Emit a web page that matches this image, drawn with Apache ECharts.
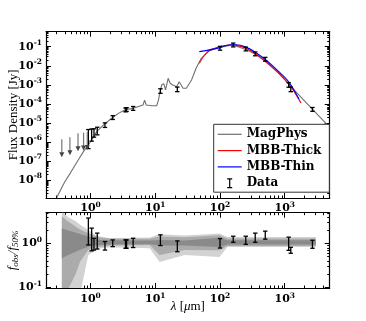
<!DOCTYPE html>
<html>
<head>
<meta charset="utf-8">
<script src="https://cdn.jsdelivr.net/npm/echarts@6/dist/echarts.min.js"></script>
<style>
  html, body { margin: 0; padding: 0; background: #fff; }
  #chart { width: 366px; height: 321px; }
</style>
</head>
<body>
<div id="chart"></div>
<script>
// wavelength in micron, flux density in Jy
const modelLambda = [0.302, 0.398, 0.484, 0.631, 0.776, 1.0, 1.245, 1.585, 2.12, 2.69, 3.39, 4.57, 6.46, 6.84, 7.24, 8.91, 10.5, 11.2, 11.7, 12.6, 13.2, 13.6, 14.4, 15.8, 17.0, 18.6, 21.4, 23.4, 26.9, 30.2, 36.3, 42.7, 51.3, 69.2, 97.7, 158, 251, 355, 513, 794, 1175, 2692, 5012];
const modelFlux = [1.26e-9, 7.9e-9, 2.24e-8, 1.0e-7, 3.09e-7, 1.02e-6, 3.47e-6, 7.9e-6, 1.74e-5, 3.16e-5, 4.8e-5, 5.9e-5, 8.7e-5, 1.58e-4, 8.7e-5, 7.9e-5, 7.9e-5, 1.58e-4, 3.55e-4, 1.0e-3, 1.2e-3, 1.12e-3, 5.4e-4, 2.19e-3, 1.2e-3, 9.8e-4, 7.9e-4, 1.45e-3, 6.6e-4, 6.6e-4, 1.78e-3, 7.4e-3, 2.45e-2, 6.2e-2, 9.3e-2, 0.123, 7.2e-2, 4.0e-2, 1.62e-2, 4.5e-3, 9.8e-4, 5.1e-5, 5.6e-6];

const thickLambda = [47.9, 57.5, 69.2, 97.7, 126, 158, 200, 251, 355, 513, 794, 1175, 1778];
const thickFlux = [1.35e-2, 3.55e-2, 6.5e-2, 0.1, 0.117, 0.123, 0.107, 8.3e-2, 4.3e-2, 1.62e-2, 4.2e-3, 1.05e-3, 1.12e-4];

const thinLambda = [47.9, 97.7, 141, 178, 251, 355, 513, 794, 1175, 1660];
const thinFlux = [5.5e-2, 8.7e-2, 0.126, 0.126, 9.5e-2, 5.0e-2, 2.0e-2, 5.2e-3, 1.32e-3, 1.78e-4];

const dataLambda = [0.925, 1.04, 1.13, 1.27, 1.67, 2.2, 3.47, 3.6, 4.55, 12, 21.9, 100, 160, 250, 350, 500, 1150, 1240, 2680];
const dataFlux = [1.41e-6, 2.29e-6, 2.95e-6, 3.72e-6, 7.6e-6, 1.9e-5, 4.8e-5, 5.0e-5, 5.75e-5, 4.7e-4, 5.75e-4, 8.3e-2, 0.123, 7.6e-2, 4.2e-2, 2.19e-2, 9.8e-4, 5.75e-4, 5.1e-5];
const dataErrDex = [0.5, 0.32, 0.22, 0.2, 0.12, 0.1, 0.1, 0.1, 0.1, 0.12, 0.12, 0.1, 0.1, 0.1, 0.1, 0.1, 0.12, 0.12, 0.1];

const limitLambda = [0.36, 0.48, 0.64, 0.78, 0.89];
const limitFlux = [1.38e-6, 1.74e-6, 2.82e-6, 3.09e-6, 3.31e-6];

// f_obs / f_50% error bars
const ratioLow = [0.93, 0.68, 0.71, 0.75, 0.71, 0.85, 0.78, 0.78, 0.81, 0.90, 0.65, 0.79, 1.07, 0.96, 1.07, 1.26, 0.70, 0.60, 0.78];
const ratioHigh = [3.83, 2.25, 1.32, 1.73, 1.11, 1.21, 1.21, 1.21, 1.32, 1.58, 1.15, 1.30, 1.47, 1.47, 1.73, 1.92, 1.40, 0.82, 1.19];

// percentile bands
const bandLambda = [0.36, 0.45, 0.58, 0.69, 0.92, 1.17, 1.4, 2.0, 8.2, 11.7, 28.4, 98, 130, 3020];
const outerLow = [0.05, 0.05, 0.05, 0.07, 0.54, 0.70, 0.78, 0.82, 0.78, 0.38, 0.55, 0.49, 0.83, 0.83];
const outerHigh = [5.5, 4.0, 3.27, 2.7, 2.06, 1.58, 1.45, 1.32, 1.38, 1.64, 1.53, 1.70, 1.42, 1.42];
const midLow = [0.05, 0.09, 0.19, 0.39, 0.71, 0.80, 0.85, 0.90, 0.93, 0.55, 0.71, 0.70, 0.88, 0.88];
const midHigh = [4.2, 3.2, 2.47, 2.1, 1.73, 1.5, 1.38, 1.30, 1.28, 1.45, 1.40, 1.55, 1.30, 1.30];
const innerLow = [0.46, 0.55, 0.64, 0.72, 0.85, 0.90, 0.93, 0.95, 0.96, 0.90, 0.90, 0.83, 0.95, 0.95];
const innerHigh = [2.25, 2.0, 1.8, 1.65, 1.45, 1.3, 1.21, 1.19, 1.17, 1.21, 1.17, 1.35, 1.19, 1.19];

const xTicks = [1, 10, 100, 1000];
const fluxTicks = [1e-1, 1e-2, 1e-3, 1e-4, 1e-5, 1e-6, 1e-7, 1e-8];
const ratioTicks = [0.1, 1];

const X_MIN = 0.205, X_MAX = 4950;
const F_MIN = 1.135e-9, F_MAX = 0.614;
const R_MIN = 0.0964, R_MAX = 5.07;

const serif = 'DejaVu Serif';
const roman = 'Liberation Serif';

function minorTicks(lo, hi, e0, e1) {
  const out = [];
  for (let e = e0; e <= e1; e++) {
    for (let m = 2; m <= 9; m++) {
      const v = m * Math.pow(10, e);
      if (v > lo && v < hi) out.push(v);
    }
  }
  return out;
}
const minorX = minorTicks(X_MIN, X_MAX, -1, 3);
const minorF = minorTicks(F_MIN, F_MAX, -9, -1);
const minorR = minorTicks(R_MIN, R_MAX, -2, 0);

const powLabel = {
  color: '#000',
  fontFamily: serif,
  fontWeight: 'bold',
  fontSize: 11,
  formatter: function (v) {
    const e = Math.round(Math.log10(v));
    return '{b|10}{s|' + e + '}';
  },
  rich: {
    b: { fontFamily: serif, fontWeight: 'bold', fontSize: 11, color: '#000' },
    s: { fontFamily: serif, fontWeight: 'bold', fontSize: 7.5, color: '#000', padding: [0, 0, 7, 0] }
  }
};

function axis(grid, position, min, max, ticks, len, labels, showLine, extra) {
  return Object.assign({
    type: 'log',
    logBase: 10,
    gridIndex: grid,
    position: position,
    min: min,
    max: max,
    axisLine: { show: showLine, lineStyle: { color: '#000', width: 1.2 } },
    axisTick: { show: true, inside: true, length: len, customValues: ticks, lineStyle: { color: '#000', width: 1 } },
    axisLabel: labels ? Object.assign({ customValues: labels, margin: 4 }, powLabel) : { show: false },
    splitLine: { show: false },
    minorTick: { show: false }
  }, extra || {});
}

const chart = echarts.init(document.getElementById('chart'));

function bandSeries(lo, hi, color) {
  return {
    type: 'custom',
    xAxisIndex: 4,
    yAxisIndex: 4,
    clip: true,
    silent: true,
    z: 1,
    data: [[1, 1]],
    renderItem: function (params, api) {
      const pts = [];
      for (let i = 0; i < bandLambda.length; i++) pts.push(api.coord([bandLambda[i], hi[i]]));
      for (let i = bandLambda.length - 1; i >= 0; i--) pts.push(api.coord([bandLambda[i], lo[i]]));
      return { type: 'polygon', shape: { points: pts }, style: { fill: color } };
    }
  };
}

function errorBarRender(params, api) {
  const p1 = api.coord([api.value(0), api.value(1)]);
  const p2 = api.coord([api.value(0), api.value(2)]);
  const c = 2.2;
  const st = { stroke: '#000', lineWidth: 1.3 };
  return {
    type: 'group',
    children: [
      { type: 'line', shape: { x1: p1[0], y1: p1[1], x2: p2[0], y2: p2[1] }, style: st },
      { type: 'line', shape: { x1: p1[0] - c, y1: p1[1], x2: p1[0] + c, y2: p1[1] }, style: st },
      { type: 'line', shape: { x1: p2[0] - c, y1: p2[1], x2: p2[0] + c, y2: p2[1] }, style: st }
    ]
  };
}

const fluxBars = dataLambda.map((l, i) => [l, dataFlux[i] / Math.pow(10, dataErrDex[i]), dataFlux[i] * Math.pow(10, dataErrDex[i])]);
const ratioBars = dataLambda.map((l, i) => [l, ratioLow[i], ratioHigh[i]]);

const lineIcon = 'path://M0,0h24v1.2h-24z';

const option = {
  backgroundColor: '#fff',
  animation: false,
  grid: [
    { left: 46, top: 31.7, width: 283.7, height: 166.3, outerBoundsMode: 'none' },
    { left: 46, top: 212.7, width: 283.7, height: 75.3, outerBoundsMode: 'none' }
  ],
  legend: {
    left: 213.7,
    top: 124.3,
    orient: 'vertical',
    backgroundColor: '#fff',
    borderColor: '#333',
    borderWidth: 1,
    borderRadius: 0,
    padding: [3, 8, 2, 4],
    itemWidth: 24,
    itemHeight: 10,
    itemGap: 2.3,
    selectedMode: false,
    symbolKeepAspect: true,
    textStyle: { fontFamily: serif, fontWeight: 'bold', fontSize: 12, color: '#000', lineHeight: 14 },
    data: [
      { name: 'MagPhys', icon: lineIcon },
      { name: 'MBB-Thick', icon: lineIcon },
      { name: 'MBB-Thin', icon: lineIcon },
      { name: 'Data', icon: 'path://M0,0h5v1.2h-5z M1.9,1.2h1.2v7.6h-1.2z M0,8.8h5v1.2h-5z', itemStyle: { color: '#000' } }
    ]
  },
  xAxis: [
    axis(0, 'bottom', X_MIN, X_MAX, xTicks, 5, xTicks, true, { axisLabel: Object.assign({ customValues: xTicks, margin: 3 }, powLabel) }),
    axis(0, 'bottom', X_MIN, X_MAX, minorX, 2.5, null, false),
    axis(0, 'top', X_MIN, X_MAX, xTicks, 5, null, true),
    axis(0, 'top', X_MIN, X_MAX, minorX, 2.5, null, false),
    axis(1, 'bottom', X_MIN, X_MAX, xTicks, 5, xTicks, true, {
      axisLabel: Object.assign({ customValues: xTicks, margin: 4 }, powLabel),
      name: '{i|λ} [{i|μ}m]',
      nameLocation: 'middle',
      nameGap: 12,
      nameMoveOverlap: false,
      nameTextStyle: {
        fontFamily: roman, fontSize: 13, color: '#000',
        rich: { i: { fontFamily: roman, fontStyle: 'italic', fontSize: 13, color: '#000' } }
      }
    }),
    axis(1, 'bottom', X_MIN, X_MAX, minorX, 2.5, null, false),
    axis(1, 'top', X_MIN, X_MAX, xTicks, 5, null, true),
    axis(1, 'top', X_MIN, X_MAX, minorX, 2.5, null, false)
  ],
  yAxis: [
    axis(0, 'left', F_MIN, F_MAX, fluxTicks, 5, fluxTicks, true, {
      name: 'Flux Density [Jy]',
      nameLocation: 'middle',
      nameGap: 26,
      nameRotate: 90,
      nameMoveOverlap: false,
      nameTextStyle: { fontFamily: roman, fontSize: 13, color: '#000' }
    }),
    axis(0, 'left', F_MIN, F_MAX, minorF, 2.5, null, false),
    axis(0, 'right', F_MIN, F_MAX, fluxTicks, 5, null, true),
    axis(0, 'right', F_MIN, F_MAX, minorF, 2.5, null, false),
    axis(1, 'left', R_MIN, R_MAX, ratioTicks, 5, ratioTicks, true, {
      name: '{f|f}{s|obs}{f|/f}{s|50%}',
      nameLocation: 'middle',
      nameGap: 26,
      nameRotate: 90,
      nameMoveOverlap: false,
      nameTextStyle: {
        fontFamily: roman, fontSize: 13, color: '#000',
        rich: {
          f: { fontFamily: roman, fontStyle: 'italic', fontSize: 13, color: '#000' },
          s: { fontFamily: roman, fontStyle: 'italic', fontSize: 9, color: '#000', padding: [5, 0, 0, 0] }
        }
      }
    }),
    axis(1, 'left', R_MIN, R_MAX, minorR, 2.5, null, false),
    axis(1, 'right', R_MIN, R_MAX, ratioTicks, 5, null, true),
    axis(1, 'right', R_MIN, R_MAX, minorR, 2.5, null, false)
  ],
  series: [
    {
      name: 'MagPhys',
      type: 'line',
      xAxisIndex: 0,
      yAxisIndex: 0,
      symbol: 'none',
      lineStyle: { color: '#707070', width: 1.1 },
      itemStyle: { color: '#707070' },
      data: modelLambda.map((l, i) => [l, modelFlux[i]]),
      z: 3
    },
    {
      name: 'MBB-Thick',
      type: 'line',
      xAxisIndex: 0,
      yAxisIndex: 0,
      symbol: 'none',
      smooth: 0.3,
      lineStyle: { color: '#ff0000', width: 1.1 },
      itemStyle: { color: '#ff0000' },
      data: thickLambda.map((l, i) => [l, thickFlux[i]]),
      z: 4
    },
    {
      name: 'MBB-Thin',
      type: 'line',
      xAxisIndex: 0,
      yAxisIndex: 0,
      symbol: 'none',
      smooth: 0.3,
      lineStyle: { color: '#0000ff', width: 1.1 },
      itemStyle: { color: '#0000ff' },
      data: thinLambda.map((l, i) => [l, thinFlux[i]]),
      z: 5
    },
    {
      name: 'Data',
      type: 'custom',
      xAxisIndex: 0,
      yAxisIndex: 0,
      itemStyle: { color: '#000' },
      encode: { x: 0, y: [1, 2] },
      data: fluxBars,
      renderItem: errorBarRender,
      z: 6
    },
    {
      name: 'upper limits',
      type: 'custom',
      xAxisIndex: 0,
      yAxisIndex: 0,
      encode: { x: 0, y: 1 },
      data: limitLambda.map((l, i) => [l, limitFlux[i]]),
      renderItem: function (params, api) {
        const p = api.coord([api.value(0), api.value(1)]);
        const len = 18;
        return {
          type: 'group',
          children: [
            { type: 'line', shape: { x1: p[0], y1: p[1], x2: p[0], y2: p[1] + len - 3 }, style: { stroke: '#777', lineWidth: 1.2 } },
            { type: 'polygon', shape: { points: [[p[0] - 2.5, p[1] + len - 5], [p[0] + 2.5, p[1] + len - 5], [p[0], p[1] + len]] }, style: { fill: '#444' } }
          ]
        };
      },
      z: 6
    },
    bandSeries(outerLow, outerHigh, '#d2d2d2'),
    bandSeries(midLow, midHigh, '#ababab'),
    bandSeries(innerLow, innerHigh, '#8a8a8a'),
    {
      name: 'ratio',
      type: 'custom',
      xAxisIndex: 4,
      yAxisIndex: 4,
      encode: { x: 0, y: [1, 2] },
      data: ratioBars,
      renderItem: errorBarRender,
      z: 6
    }
  ]
};

chart.setOption(option);
</script>
</body>
</html>
